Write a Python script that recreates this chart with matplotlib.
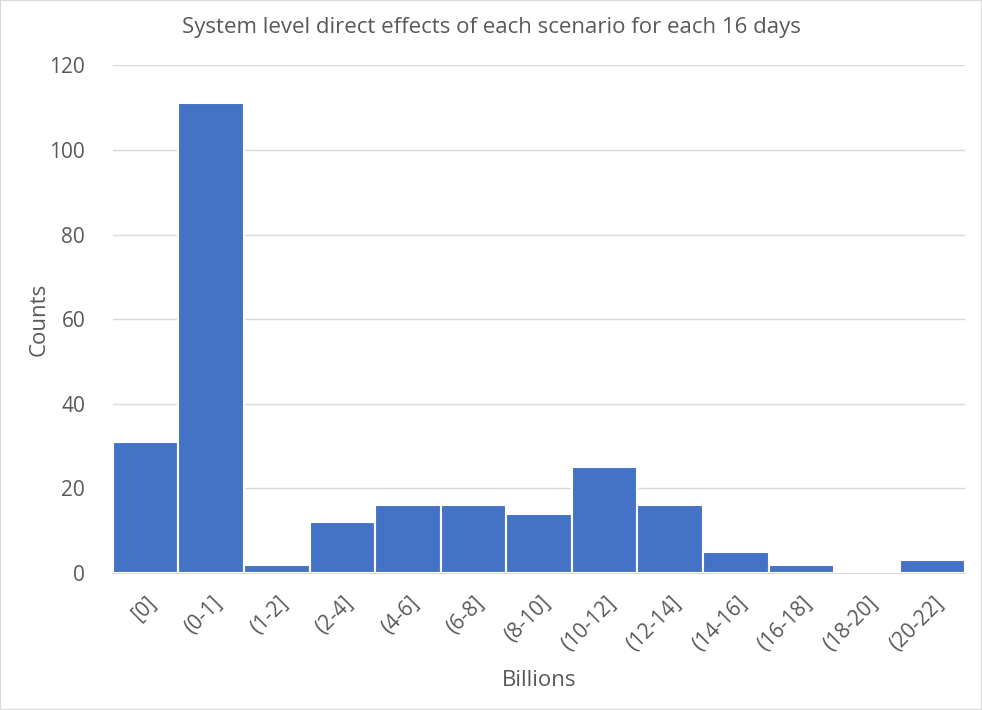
import matplotlib.pyplot as plt

plt.rcParams['font.family'] = ['Open Sans', 'DejaVu Sans']

categories = ['[0]', '(0-1]', '(1-2]', '(2-4]', '(4-6]', '(6-8]', '(8-10]',
              '(10-12]', '(12-14]', '(14-16]', '(16-18]', '(18-20]', '(20-22]']
counts = [31, 111, 2, 12, 16, 16, 14, 25, 16, 5, 2, 0, 3]

grey = '#595959'

fig = plt.figure(figsize=(9.82, 7.1), dpi=100)
ax = fig.add_axes([0.115, 0.193, 0.868, 0.715])

x = range(len(categories))
ax.bar(x, counts, width=1.0, color='#4472C4', edgecolor='white', linewidth=1.5, zorder=3)

ax.set_xlim(-0.5, len(categories) - 0.5)
ax.set_ylim(0, 120)
ax.set_yticks(range(0, 121, 20))
ax.grid(axis='y', color='#D9D9D9', linewidth=1, zorder=0)
for s in ['top', 'right', 'left']:
    ax.spines[s].set_visible(False)
ax.spines['bottom'].set_color('#D9D9D9')
ax.tick_params(axis='both', length=0, colors=grey, labelsize=15)
ax.tick_params(axis='y', pad=20)
ax.set_xticks(list(x))
ax.set_xticklabels(categories, rotation=45, ha='right', rotation_mode='anchor')
ax.tick_params(axis='x', pad=14)

ax.set_xlabel('Billions', color=grey, fontsize=16, labelpad=11)
ax.set_ylabel('Counts', color=grey, fontsize=16, labelpad=0)
fig.text(0.5, 1 - 28 / 710, 'System level direct effects of each scenario for each 16 days',
         color=grey, fontsize=16, ha='center', va='center')

fig.patches.append(plt.Rectangle((0, 0), 1, 1, transform=fig.transFigure,
                                 fill=False, edgecolor='#D9D9D9', linewidth=1.5))

plt.savefig('out.png')
